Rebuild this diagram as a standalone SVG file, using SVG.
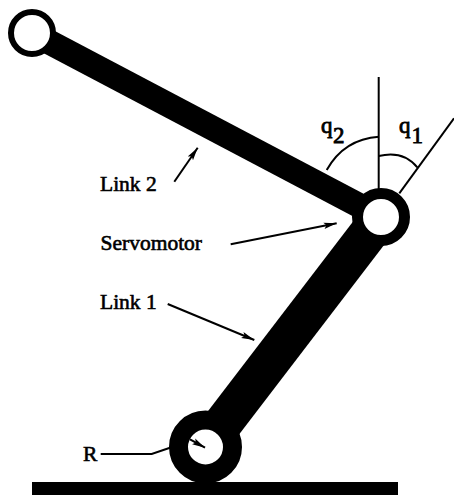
<svg xmlns="http://www.w3.org/2000/svg" width="454" height="495" viewBox="0 0 454 495">
<style>
text{font-family:"Liberation Serif","Times New Roman",serif;font-size:21.5px;fill:#000;stroke:#000;stroke-width:.6px}
.sym{font-size:23px;stroke-width:.8px}
.link{stroke:#000;fill:none}
.thin{stroke:#000;stroke-width:2;fill:none}
.leader{stroke:#000;stroke-width:2;fill:none;marker-end:url(#a)}
.joint{fill:#fff;stroke:#000}
</style>
<defs><marker id="a" markerUnits="userSpaceOnUse" markerWidth="14" markerHeight="8" refX="13" refY="4" orient="auto"><path d="M0 .8L13 4L0 7.2L2.5 4Z" fill="#000"/></marker></defs>
<rect width="454" height="495" fill="#fff"/>
<g id="ground"><rect x="32" y="482" width="366" height="13" fill="#000"/></g>
<g id="links">
<line class="link" id="link-2" x1="32" y1="33" x2="381" y2="217" stroke-width="25"/>
<line class="link" id="link-1" x1="205" y1="447" x2="381" y2="217" stroke-width="39"/>
</g>
<g id="joint-end"><circle class="joint" cx="32" cy="33" r="21" stroke-width="6"/></g>
<g id="servomotor-joint"><circle class="joint" cx="381" cy="217" r="23.5" stroke-width="11"/></g>
<g id="base-joint"><circle class="joint" cx="205.5" cy="447" r="27" stroke-width="19"/></g>
<g id="connectors">
<path class="thin" d="M378.7 77V190"/>
<path class="thin" d="M399.3 193.3L454 118.3"/>
<path class="thin" d="M326.7 170Q344 139 379 136.7"/>
<path class="thin" d="M378.7 156Q403 150 417.3 167.3"/>
<path class="thin" d="M100.7 454H151.7L170 447.7"/>
<path class="leader" d="M174.3 181.7L197.7 147.7"/>
<path class="leader" d="M230.7 244.3L336.7 223.3"/>
<path class="leader" d="M167.7 304L254.3 340"/>
<path class="leader" d="M190 439.3L205 447.7"/>
</g>
<g id="labels">
<text x="100" y="191">Link 2</text>
<text x="100.5" y="250">Servomotor</text>
<text x="100" y="309">Link 1</text>
<text x="83" y="461">R</text>
<text class="sym" x="321" y="133">q</text><text class="sym" x="333" y="143">2</text>
<text class="sym" x="399" y="133">q</text><text class="sym" x="411.5" y="143">1</text>
</g>
</svg>
